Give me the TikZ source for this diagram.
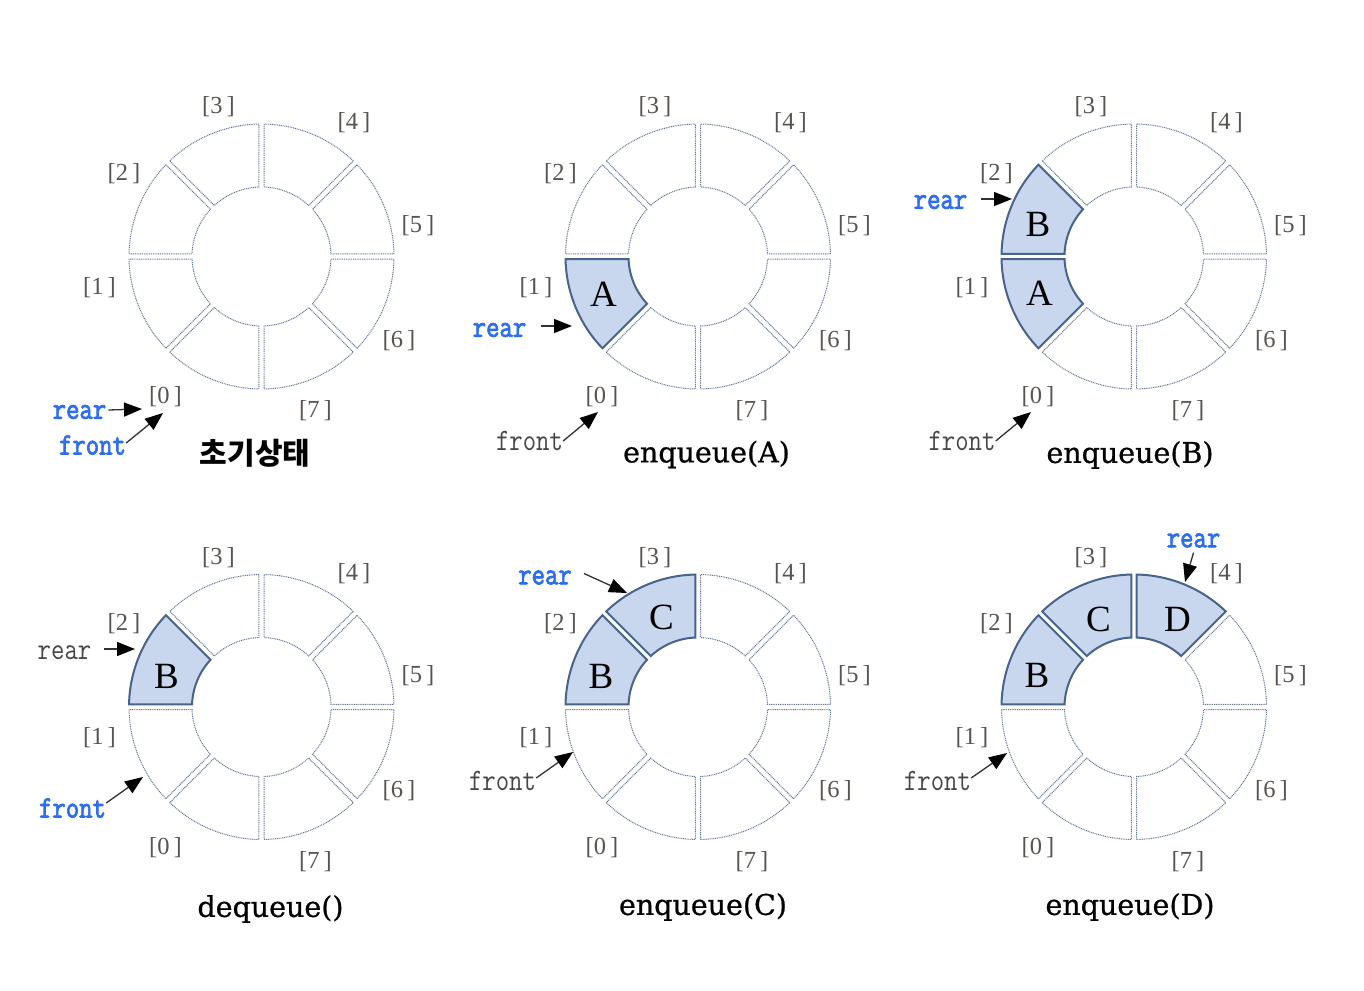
\documentclass[tikz,border=0pt]{standalone}
\usepackage{graphicx}
\usepackage{fontspec}
\setmainfont{Liberation Serif}
\newfontfamily\qmono{Latin Modern Mono}
\newfontfamily\qmonob{Latin Modern Mono}[FakeBold=2.5]
\newfontfamily\qtitlefont{DejaVu Serif}[FakeBold=0.8]
\newfontfamily\qkr{Noto Sans CJK KR}
\usetikzlibrary{arrows.meta}
\definecolor{segc}{RGB}{100,120,158}
\definecolor{segfill}{RGB}{200,214,238}
\definecolor{segline}{RGB}{72,100,140}
\definecolor{idxc}{RGB}{88,84,80}
\definecolor{ptrblue}{RGB}{45,110,240}
\definecolor{ptrgrey}{RGB}{70,70,70}
\definecolor{arrowc}{RGB}{50,50,50}
\def\qR{132.5}
\def\qr{69.5}
\def\qdR{1.17}
\def\qdr{2.23}
\tikzset{
  emptyseg/.style={draw=segc, line width=1pt, dash pattern=on 1pt off 0.8pt},
  fullseg/.style={draw=segline, fill=segfill, line width=2pt, line join=miter},
  idxlabel/.style={inner sep=0pt, text=idxc, font=\fontsize{24.5}{24.5}\selectfont},
  segletter/.style={inner sep=0pt, font=\fontsize{37}{37}\selectfont},
  bluetxt/.style={inner sep=0pt, text=ptrblue, font=\qmonob\fontsize{26}{26}\selectfont},
  greytxt/.style={inner sep=0pt, text=ptrgrey, font=\qmono\fontsize{26}{26}\selectfont},
  ptr/.style={draw=arrowc, line width=1.3pt, -{Triangle[length=18pt,width=14pt,color=black]}},
  qtitle/.style={inner sep=0pt, font=\qtitlefont\fontsize{28.5}{29}\selectfont},
  krtitle/.style={inner sep=0pt, font=\qkr\bfseries\fontsize{30}{30}\selectfont},
}
\newcommand\qsegpath[2]{%
  \pgfmathsetmacro\qa{225-45*#1}%
  \pgfmathsetmacro\qb{270-45*#1}%
  \draw[#2] ({\qa+\qdR}:\qR) arc[start angle={\qa+\qdR}, end angle={\qb-\qdR}, radius=\qR]
    -- ({\qb-\qdr}:\qr) arc[start angle={\qb-\qdr}, end angle={\qa+\qdr}, radius=\qr] -- cycle;}
\newcommand\qring[3]{%
  \begin{scope}[shift={(#2,#3)}]
    \foreach \qi in {0,...,7}{\qsegpath{\qi}{emptyseg}}
    \node[idxlabel] (#1l0) at (-96,-140.5) {[0\,]};
    \node[idxlabel] (#1l1) at (-162,-31) {[1\,]};
    \node[idxlabel] (#1l2) at (-137.5,83) {[2\,]};
    \node[idxlabel] (#1l3) at (-43,149.5) {[3\,]};
    \node[idxlabel] (#1l4) at (92.5,133.5) {[4\,]};
    \node[idxlabel] (#1l5) at (156.5,31) {[5\,]};
    \node[idxlabel] (#1l6) at (137.5,-84) {[6\,]};
    \node[idxlabel] (#1l7) at (54,-154.5) {[7\,]};
  \end{scope}}
% name, cx, cy, index, letter, dx, dy
\newcommand\qfill[7]{%
  \begin{scope}[shift={(#2,#3)}]
    \qsegpath{#4}{fullseg}
    \node[segletter] (#1v#4) at (#6,#7) {#5};
  \end{scope}}
\newcommand\qtxt[1]{\scalebox{1}[1.2]{#1}}
\begin{document}
\begin{tikzpicture}[x=1pt,y=1pt]
\useasboundingbox (0,0) rectangle (1364,-990);
\fill[white] (0,0) rectangle (1364,-990);

% ---------- ring 1 : initial state
\qring{r1}{261.5}{-256.5}
\node[bluetxt] (r1rear) at (79.5,-412) {\qtxt{rear}};
\node[bluetxt] (r1front) at (92.5,-445) {\qtxt{front}};
\coordinate (r1reartip) at (142,-409);
\coordinate (r1fronttip) at (163,-413);
\draw[ptr] ([xshift=2pt,yshift=2pt]r1rear.east) -- (r1reartip);
\draw[ptr] ([yshift=2pt]r1front.east) -- (r1fronttip);
\node[krtitle] (r1title) at (255,-453.5) {초기상태};

% ---------- ring 2 : enqueue(A)
\qring{r2}{698}{-256.5}
\qfill{r2}{698}{-256.5}{1}{A}{-94.5}{-38}
\node[bluetxt] (r2rear) at (499.5,-330) {\qtxt{rear}};
\node[greytxt] (r2front) at (529.5,-441) {\qtxt{front}};
\coordinate (r2reartip) at (572,-326);
\coordinate (r2fronttip) at (598,-412);
\draw[ptr] ([xshift=15pt,yshift=4pt]r2rear.east) -- (r2reartip);
\draw[ptr] (r2front.east) -- (r2fronttip);
\node[qtitle] (r2title) at (706.5,-454.5) {enqueue(A)};

% ---------- ring 3 : enqueue(B)
\qring{r3}{1134}{-256.5}
\qfill{r3}{1134}{-256.5}{1}{A}{-94.5}{-37}
\qfill{r3}{1134}{-256.5}{2}{B}{-96}{32}
\node[bluetxt] (r3rear) at (940.5,-202) {\qtxt{rear}};
\node[greytxt] (r3front) at (962,-441) {\qtxt{front}};
\coordinate (r3reartip) at (1012,-199);
\coordinate (r3fronttip) at (1031,-412);
\draw[ptr] ([xshift=14pt,yshift=3pt]r3rear.east) -- (r3reartip);
\draw[ptr] (r3front.east) -- (r3fronttip);
\node[qtitle] (r3title) at (1130,-455) {enqueue(B)};

% ---------- ring 4 : dequeue()
\qring{r4}{261.5}{-707}
\qfill{r4}{261.5}{-707}{2}{B}{-95}{30.5}
\node[greytxt] (r4rear) at (64.5,-653) {\qtxt{rear}};
\node[bluetxt] (r4front) at (72.5,-808) {\qtxt{front}};
\coordinate (r4reartip) at (135,-649);
\coordinate (r4fronttip) at (143,-777);
\draw[ptr] ([xshift=13pt,yshift=4pt]r4rear.east) -- (r4reartip);
\draw[ptr] ([yshift=5pt]r4front.east) -- (r4fronttip);
\node[qtitle] (r4title) at (270.5,-909) {dequeue()};

% ---------- ring 5 : enqueue(C)
\qring{r5}{698}{-707}
\qfill{r5}{698}{-707}{2}{B}{-97}{30.5}
\qfill{r5}{698}{-707}{3}{C}{-36.5}{89.5}
\node[bluetxt] (r5rear) at (545,-577.5) {\qtxt{rear}};
\node[greytxt] (r5front) at (502.5,-781) {\qtxt{front}};
\coordinate (r5reartip) at (627,-593);
\coordinate (r5fronttip) at (573,-752);
\draw[ptr] ([xshift=12pt,yshift=4pt]r5rear.east) -- (r5reartip);
\draw[ptr] ([yshift=3pt]r5front.east) -- (r5fronttip);
\node[qtitle] (r5title) at (703,-907) {enqueue(C)};

% ---------- ring 6 : enqueue(D)
\qring{r6}{1134}{-707}
\qfill{r6}{1134}{-707}{2}{B}{-97}{31.5}
\qfill{r6}{1134}{-707}{3}{C}{-35.5}{88}
\qfill{r6}{1134}{-707}{4}{D}{43.5}{88}
\node[bluetxt] (r6rear) at (1193.5,-540.5) {\qtxt{rear}};
\node[greytxt] (r6front) at (937.5,-781) {\qtxt{front}};
\coordinate (r6reartip) at (1185,-582);
\coordinate (r6fronttip) at (1007,-753);
\draw[ptr] ([yshift=-5pt]r6rear.south) -- (r6reartip);
\draw[ptr] ([yshift=3pt]r6front.east) -- (r6fronttip);
\node[qtitle] (r6title) at (1130,-907) {enqueue(D)};
\end{tikzpicture}
\end{document}
